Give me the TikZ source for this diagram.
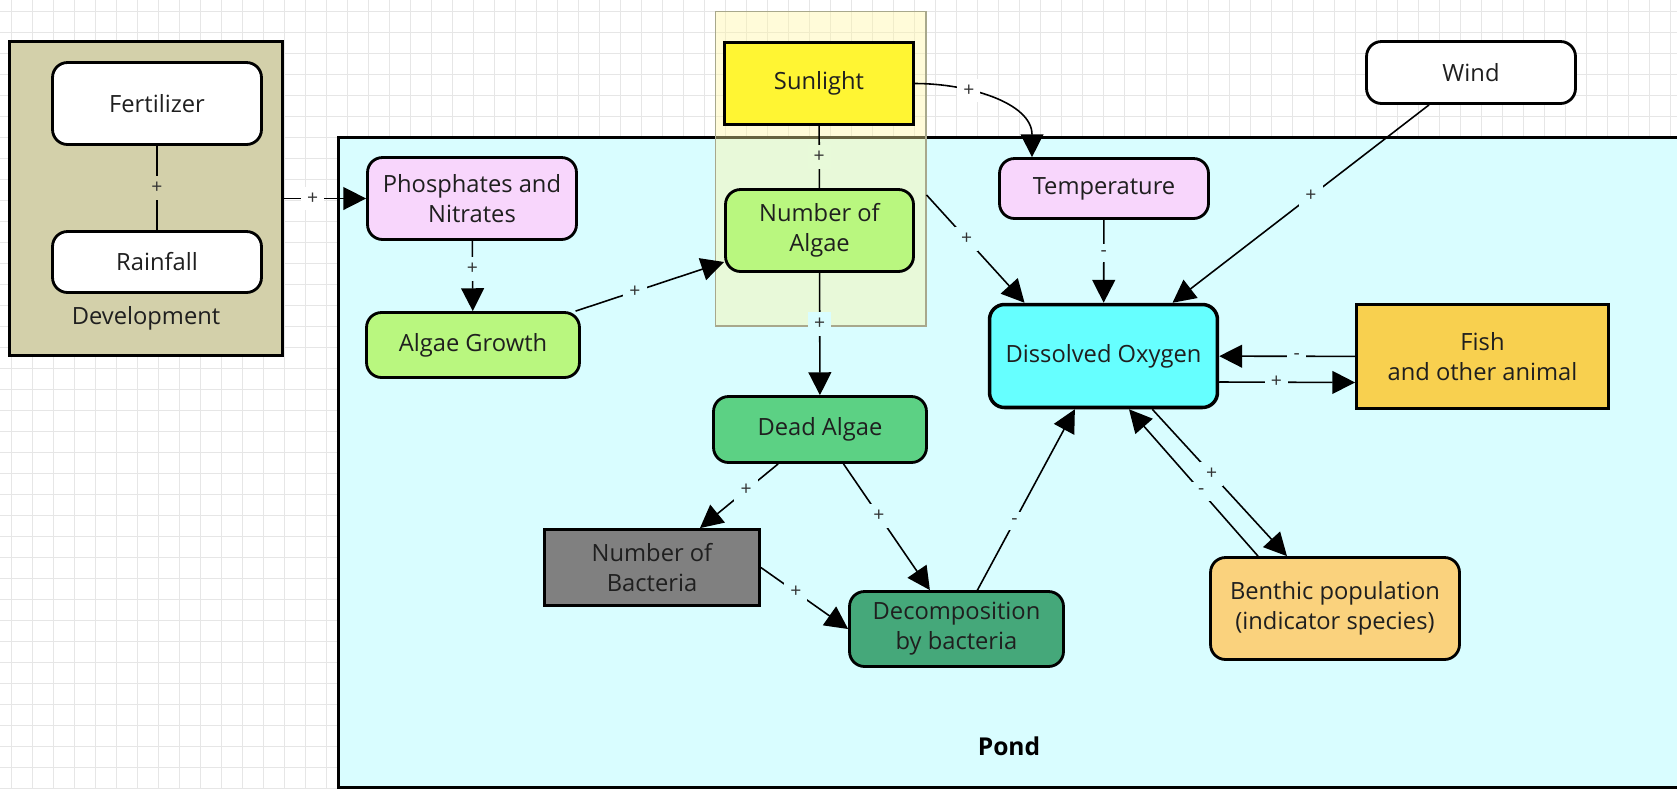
\documentclass[tikz,border=0pt]{standalone}
\usepackage{fontspec}
\setmainfont{Open Sans}
\usetikzlibrary{arrows.meta}
\definecolor{rejillacol}{RGB}{230,230,230}
\definecolor{devfill}{RGB}{211,208,170}
\definecolor{pondbg}{RGB}{217,253,255}
\definecolor{rosa}{RGB}{248,214,252}
\definecolor{verdeclaro}{RGB}{185,247,127}
\definecolor{amarillo}{RGB}{255,245,51}
\definecolor{cian}{RGB}{102,255,255}
\definecolor{oro}{RGB}{248,208,79}
\definecolor{naranja}{RGB}{250,210,125}
\definecolor{verdemedio}{RGB}{92,209,132}
\definecolor{verdeoscuro}{RGB}{69,168,122}
\definecolor{gris}{RGB}{128,128,128}
\definecolor{grupoamarillo}{RGB}{255,245,160}
\definecolor{grupoborde}{RGB}{168,168,140}
\definecolor{grupoverde}{RGB}{232,250,217}
\begin{document}
\begin{tikzpicture}[x=0.02cm, y=-0.02cm,
    caja/.style={draw, line width=1.6pt, rounded corners=0.3cm, align=center, text=black!88, font=\fontsize{13.5}{17}\selectfont, inner sep=2pt},
    cajarecta/.style={caja, rounded corners=0pt},
    flecha/.style={-{Triangle[length=13pt,width=13pt]}, line width=0.9pt},
    linea/.style={line width=0.9pt},
    signo/.style={fill=pondbg, inner sep=3.5pt, font=\fontsize{11}{13}\selectfont, text=black!80}]
    \useasboundingbox (0,0) rectangle (1677,789); % tamaño de la imagen
    \foreach \gx in {0,...,79} \draw[rejillacol, line width=0.5pt] (11+21*\gx,0) -- (11+21*\gx,789); % rejilla vertical
    \foreach \gy in {0,...,37} \draw[rejillacol, line width=0.5pt] (0,11+21*\gy) -- (1677,11+21*\gy); % rejilla horizontal
    % Development
    \node[draw, line width=1.6pt, fill=devfill, minimum width=5.46cm, minimum height=6.28cm] (dev) at (146,198.5) {};
    \node[caja, fill=white, minimum width=4.18cm, minimum height=1.64cm] (fert) at (157,103.5) {Fertilizer};
    \node[caja, fill=white, minimum width=4.18cm, minimum height=1.22cm] (rain) at (157,262) {Rainfall};
    \node[text=black!88, font=\fontsize{13.5}{17}\selectfont] (devlbl) at (146,318) {Development};
    % Pond
    \node[draw, line width=1.6pt, fill=pondbg, anchor=north west, minimum width=28cm, minimum height=13cm] (pond) at (337,136) {};
    \node[font=\bfseries\fontsize{14}{17}\selectfont] (pondlbl) at (1009,746) {Pond};
    \node[draw=grupoborde, line width=0.6pt, fill=grupoamarillo, fill opacity=0.4, minimum width=4.22cm, minimum height=6.3cm] (sungroup) at (820.5,168.5) {}; % grupo de la luz
    % cajas
    \node[caja, fill=rosa, minimum width=4.18cm, minimum height=1.64cm] (phos) at (472,198.5) {Phosphates and\\Nitrates};
    \node[caja, fill=verdeclaro, minimum width=4.26cm, minimum height=1.3cm] (agrow) at (473,345) {Algae Growth};
    \node[cajarecta, fill=amarillo, minimum width=3.78cm, minimum height=1.64cm] (sun) at (819,83.5) {Sunlight};
    \node[caja, fill=verdeclaro, minimum width=3.76cm, minimum height=1.64cm] (algae) at (819.5,230.5) {Number of\\Algae};
    \node[caja, fill=rosa, minimum width=4.18cm, minimum height=1.2cm] (temp) at (1104,188.5) {Temperature};
    \node[caja, fill=white, minimum width=4.18cm, minimum height=1.24cm] (wind) at (1471,72.5) {Wind};
    \node[caja, fill=cian, line width=2pt, minimum width=4.56cm, minimum height=2.06cm] (dox) at (1103.5,356) {Dissolved Oxygen};
    \node[cajarecta, fill=oro, minimum width=5.04cm, minimum height=2.08cm] (fish) at (1482.5,356.5) {Fish\\and other animal};
    \node[caja, fill=verdemedio, minimum width=4.26cm, minimum height=1.32cm] (dead) at (820,429.5) {Dead Algae};
    \node[cajarecta, fill=gris, minimum width=4.3cm, minimum height=1.52cm] (bact) at (652,567.5) {Number of\\Bacteria};
    \node[caja, fill=verdeoscuro, minimum width=4.28cm, minimum height=1.5cm] (decomp) at (956.5,629) {Decomposition\\by bacteria};
    \node[caja, fill=naranja, minimum width=4.98cm, minimum height=2.04cm] (benth) at (1335,608.5) {Benthic population\\(indicator species)};
    % conectores
    \draw[linea] (fert) -- node[signo, fill=devfill]{+} (rain);
    \draw[flecha] (dev) -- node[signo, fill=white, pos=.35]{+} (phos);
    \draw[flecha] (phos) -- node[signo, pos=.4]{+} (agrow);
    \draw[flecha] (agrow) -- node[signo, pos=.4]{+} (algae);
    \draw[linea] (sun) -- node[signo, fill=grupoverde]{+} (algae);
    \draw[flecha] (sun.east) to[out=0, in=90] node[signo, fill=white, pos=.33]{+} ([xshift=-1.44cm]temp.north);
    \draw[flecha] (sungroup.-14) -- node[signo, pos=.41]{+} (dox.146);
    \draw[flecha] (algae) -- node[signo, pos=.42]{+} (dead);
    \draw[flecha] (temp) -- node[signo, pos=.4]{-} (dox);
    \draw[flecha] (wind) -- node[signo, pos=.46]{+} (dox);
    \draw[flecha] (fish) -- node[signo, pos=.43]{-} (dox);
    \draw[flecha] ([yshift=-0.52cm]dox.east) -- node[signo, pos=.42]{+} ([yshift=-0.52cm]fish.west);
    \draw[flecha] (dox) -- node[signo, pos=.44]{+} (benth);
    \draw[flecha] ([xshift=-1.54cm]benth.north) -- node[signo, pos=.44]{-} ([xshift=0.51cm]dox.south);
    \draw[flecha] (dead) -- node[signo, pos=.41]{+} (bact);
    \draw[flecha] (dead) -- node[signo, pos=.41]{+} (decomp);
    \draw[flecha] (bact.east) -- node[signo, pos=.4]{+} (decomp.west);
    \draw[flecha] (decomp) -- node[signo, pos=.38]{-} (dox);
\end{tikzpicture}
\end{document}
